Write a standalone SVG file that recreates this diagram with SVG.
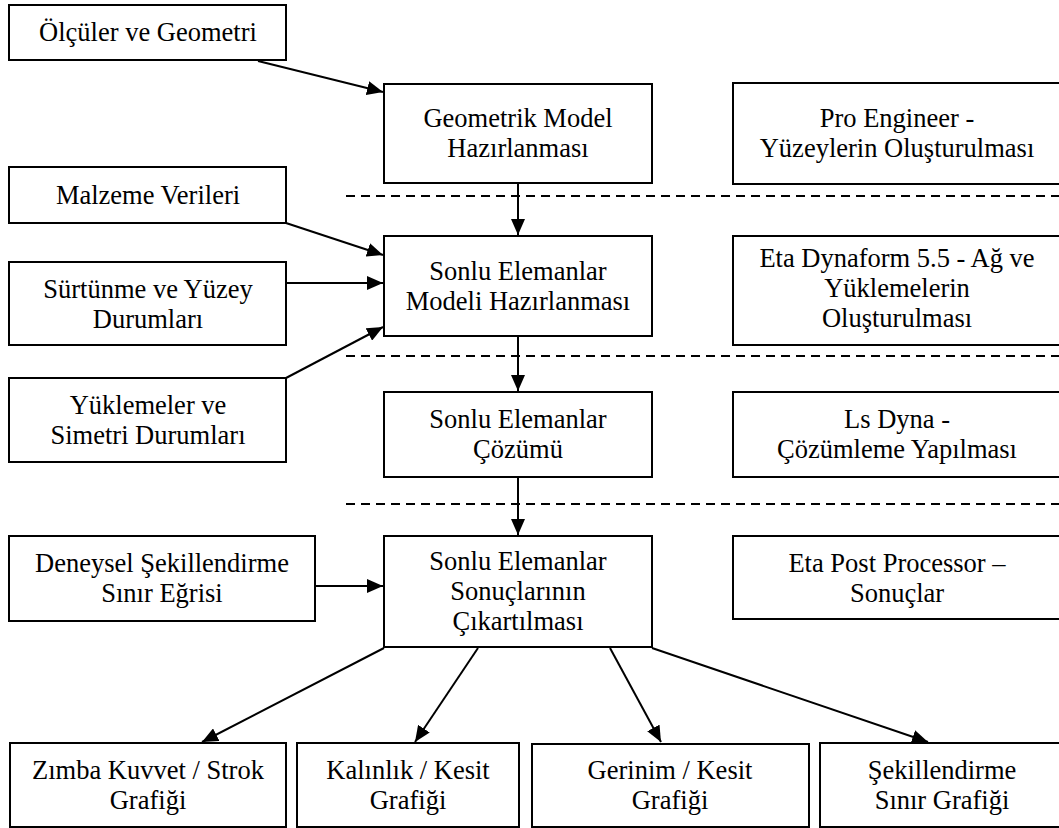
<svg xmlns="http://www.w3.org/2000/svg" width="1059" height="828" viewBox="0 0 1059 828">
<style>
.box{fill:#fff;stroke:#000;stroke-width:2}
.t{font-family:"Liberation Serif","Times New Roman",serif;font-size:26.5px;fill:#000;text-anchor:middle}
.c{stroke:#000;stroke-width:2;fill:none;marker-end:url(#ah)}
.d{stroke:#000;stroke-width:2;stroke-dasharray:9 6;fill:none}
</style>
<defs>
<marker id="ah" viewBox="0 0 16 14" refX="16" refY="7" markerWidth="16" markerHeight="14" markerUnits="userSpaceOnUse" orient="auto">
<path d="M0,0 L16,7 L0,14 z" fill="#000"/>
</marker>
</defs>
<rect width="1059" height="828" fill="#fff"/>
<g id="separators">
<line class="d" x1="346" y1="196" x2="1059" y2="196"/>
<line class="d" x1="346" y1="356" x2="1059" y2="356"/>
<line class="d" x1="346" y1="504" x2="1059" y2="504"/>
</g>
<g id="connectors">
<line class="c" x1="258" y1="61" x2="383" y2="92"/>
<line class="c" x1="286" y1="223" x2="383" y2="255"/>
<line class="c" x1="286" y1="283" x2="383" y2="283"/>
<line class="c" x1="286" y1="378" x2="383" y2="327"/>
<line class="c" x1="518" y1="183" x2="518" y2="235"/>
<line class="c" x1="518" y1="336" x2="518" y2="391"/>
<line class="c" x1="518" y1="477" x2="518" y2="535"/>
<line class="c" x1="315" y1="586" x2="383" y2="586"/>
<line class="c" x1="384" y1="648" x2="202" y2="742"/>
<line class="c" x1="478" y1="648" x2="415" y2="742"/>
<line class="c" x1="610" y1="648" x2="661" y2="742"/>
<line class="c" x1="652" y1="648" x2="928" y2="742"/>
</g>
<g id="olculer"><rect class="box" x="9" y="5" width="277" height="55"/><text class="t" x="148" y="41">Ölçüler ve Geometri</text></g>
<g id="malzeme"><rect class="box" x="9" y="167" width="277" height="56"/><text class="t" x="148" y="204">Malzeme Verileri</text></g>
<g id="surtunme"><rect class="box" x="9" y="262" width="277" height="83"/><text class="t" x="148" y="298">Sürtünme ve Yüzey</text><text class="t" x="148" y="328">Durumları</text></g>
<g id="yuklemeler"><rect class="box" x="9" y="378" width="277" height="84"/><text class="t" x="148" y="414">Yüklemeler ve</text><text class="t" x="148" y="444">Simetri Durumları</text></g>
<g id="deneysel"><rect class="box" x="9" y="536" width="306" height="85"/><text class="t" x="162" y="572">Deneysel Şekillendirme</text><text class="t" x="162" y="602">Sınır Eğrisi</text></g>
<g id="geometrik"><rect class="box" x="384" y="84" width="268" height="99"/><text class="t" x="518" y="127">Geometrik Model</text><text class="t" x="518" y="157">Hazırlanması</text></g>
<g id="sonlu-model"><rect class="box" x="384" y="236" width="268" height="100"/><text class="t" x="518" y="280">Sonlu Elemanlar</text><text class="t" x="518" y="310">Modeli Hazırlanması</text></g>
<g id="cozum"><rect class="box" x="384" y="392" width="268" height="85"/><text class="t" x="518" y="428">Sonlu Elemanlar</text><text class="t" x="518" y="458">Çözümü</text></g>
<g id="sonuclar"><rect class="box" x="384" y="536" width="268" height="111"/><text class="t" x="518" y="570">Sonlu Elemanlar</text><text class="t" x="518" y="600">Sonuçlarının</text><text class="t" x="518" y="630">Çıkartılması</text></g>
<g id="pro-engineer"><rect class="box" x="733" y="83" width="328" height="101"/><text class="t" x="897" y="127">Pro Engineer -</text><text class="t" x="897" y="157">Yüzeylerin Oluşturulması</text></g>
<g id="eta-dynaform"><rect class="box" x="733" y="236" width="328" height="109"/><text class="t" x="897" y="267">Eta Dynaform 5.5 - Ağ ve</text><text class="t" x="897" y="297">Yüklemelerin</text><text class="t" x="897" y="327">Oluşturulması</text></g>
<g id="ls-dyna"><rect class="box" x="733" y="392" width="328" height="85"/><text class="t" x="897" y="428">Ls Dyna -</text><text class="t" x="897" y="458">Çözümleme Yapılması</text></g>
<g id="eta-post"><rect class="box" x="733" y="536" width="328" height="83"/><text class="t" x="897" y="572">Eta Post Processor –</text><text class="t" x="897" y="602">Sonuçlar</text></g>
<g id="zimba"><rect class="box" x="10" y="743" width="276" height="84"/><text class="t" x="148" y="779">Zımba Kuvvet / Strok</text><text class="t" x="148" y="809">Grafiği</text></g>
<g id="kalinlik"><rect class="box" x="297" y="743" width="222" height="84"/><text class="t" x="408" y="779">Kalınlık / Kesit</text><text class="t" x="408" y="809">Grafiği</text></g>
<g id="gerinim"><rect class="box" x="532" y="744" width="277" height="83"/><text class="t" x="670" y="779">Gerinim / Kesit</text><text class="t" x="670" y="809">Grafiği</text></g>
<g id="sekillendirme"><rect class="box" x="820" y="743" width="244" height="84"/><text class="t" x="942" y="779">Şekillendirme</text><text class="t" x="942" y="809">Sınır Grafiği</text></g>
</svg>
